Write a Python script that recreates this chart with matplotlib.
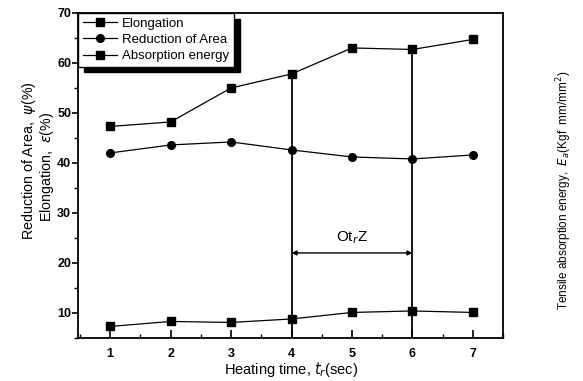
import matplotlib
matplotlib.use("Agg")
import matplotlib.pyplot as plt
from matplotlib.ticker import MultipleLocator

plt.rcParams['font.family'] = ['Liberation Sans', 'DejaVu Sans']

heating_time = [1, 2, 3, 4, 5, 6, 7]
elongation = [47.3, 48.2, 55.0, 57.8, 63.0, 62.7, 64.7]
reduction_of_area = [42.0, 43.6, 44.2, 42.6, 41.2, 40.8, 41.6]
absorption_energy = [7.3, 8.3, 8.1, 8.8, 10.1, 10.4, 10.1]
window_start, window_end = 4, 6
arrow_y = 22
window_label = "Ot$_r$Z"

fig = plt.figure(figsize=(5.83, 3.81), dpi=100)
ax = fig.add_axes([0.134, 0.113, 0.729, 0.853])

lw = 0.9
ax.plot(heating_time, elongation, '-s', color='black', lw=lw, ms=5.5, label='Elongation')
ax.plot(heating_time, reduction_of_area, '-o', color='black', lw=lw, ms=5.5, label='Reduction of Area')
ax.plot(heating_time, absorption_energy, '-s', color='black', lw=lw, ms=5.5, label='Absorption energy')

ax.set_xlim(0.47, 7.5)
ax.set_ylim(5, 70)

for xv in (window_start, window_end):
    ax.plot([xv, xv], [5, elongation[heating_time.index(xv)]], color='black', lw=1.3)

ax.annotate('', xy=(window_end, arrow_y), xytext=(window_start, arrow_y),
            arrowprops=dict(arrowstyle='<|-|>', color='black', lw=1.0,
                            mutation_scale=7, shrinkA=0, shrinkB=0))
ax.text((window_start + window_end) / 2, arrow_y + 1.3, window_label,
        ha='center', va='bottom', fontsize=11)

ax.xaxis.set_major_locator(MultipleLocator(1))
ax.xaxis.set_minor_locator(MultipleLocator(0.5))
ax.yaxis.set_major_locator(MultipleLocator(10))
ax.yaxis.set_minor_locator(MultipleLocator(5))
ax.set_yticks(range(10, 71, 10))
ax.tick_params(axis='x', which='major', direction='in', length=6, width=1.2, pad=7)
ax.tick_params(axis='x', which='minor', direction='in', length=3, width=1.0)
ax.tick_params(axis='y', which='major', direction='out', length=4, width=1.2, pad=1)
ax.tick_params(axis='y', which='minor', direction='out', length=3, width=1.0)
for lab in ax.get_xticklabels() + ax.get_yticklabels():
    lab.set_fontweight('bold')
    lab.set_fontsize(9)
for s in ax.spines.values():
    s.set_linewidth(1.3)

ax.set_xlabel('Heating time, $t_r$(sec)', fontsize=10.5, labelpad=0)
fig.text(29 / 583, 1 - 161 / 381, 'Reduction of Area,  $\\psi$(%)',
         rotation=90, ha='center', va='center', fontsize=10.3)
fig.text(47 / 583, 1 - 167 / 381, 'Elongation,  $\\varepsilon$(%)',
         rotation=90, ha='center', va='center', fontsize=10.3)

fig.text(0.967, 0.5, 'Tensile absorption energy,  $E_a$(Kgf  mm/mm$^2$)',
         rotation=90, ha='center', va='center', fontsize=8.5)

leg = ax.legend(loc='upper left', frameon=True, fancybox=False,
                shadow={'color': 'black', 'alpha': 1, 'ox': 4, 'oy': -4},
                fontsize=9.5, borderpad=0.35, labelspacing=0.3, handlelength=2.6,
                handletextpad=0.4, borderaxespad=0.0)
leg.get_frame().set_edgecolor('black')
leg.get_frame().set_linewidth(1.0)

fig.savefig('out.png', dpi=100)
